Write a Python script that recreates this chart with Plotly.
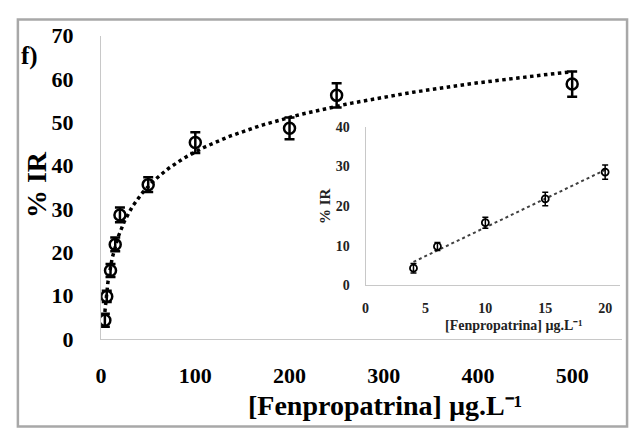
import numpy as np
import plotly.graph_objects as go

# data
conc = [4, 6, 10, 15, 20, 50, 100, 200, 250, 500]
ir = [4.3, 9.8, 15.8, 21.8, 28.6, 35.6, 45.3, 48.6, 56.2, 58.8]
ir_err = [1.5, 1.3, 1.5, 1.6, 1.7, 1.7, 2.4, 2.5, 2.8, 2.9]

ins_conc = conc[:5]
ins_ir = ir[:5]
ins_err = [1.2, 1.0, 1.4, 1.7, 1.8]

main_xticks = [0, 100, 200, 300, 400, 500]
main_yticks = [0, 10, 20, 30, 40, 50, 60, 70]
ins_xticks = [0, 5, 10, 15, 20]
ins_yticks = [0, 10, 20, 30, 40]

FONT = "Liberation Serif"
W, H = 633, 432

# trendlines (log fit for main, linear for inset)
a, b = np.polyfit(np.log(conc), ir, 1)
xf = np.geomspace(min(conc), max(conc), 200)
yf = a * np.log(xf) + b
m, c = np.polyfit(ins_conc, ins_ir, 1)
xl = np.array([min(ins_conc), max(ins_conc)])
yl = m * xl + c

fig = go.Figure()
fig.add_trace(go.Scatter(x=xf, y=yf, mode="lines",
                         line=dict(color="black", width=3.5, dash="dot"),
                         hoverinfo="skip", xaxis="x", yaxis="y"))
fig.add_trace(go.Scatter(x=conc, y=ir, mode="markers",
                         marker=dict(symbol="circle-open", size=11, color="black",
                                     line=dict(width=2.5, color="black")),
                         error_y=dict(type="data", array=ir_err, color="black",
                                      thickness=2.5, width=5),
                         xaxis="x", yaxis="y"))
fig.add_trace(go.Scatter(x=xl, y=yl, mode="lines",
                         line=dict(color="#404040", width=2, dash="dot"),
                         hoverinfo="skip", xaxis="x2", yaxis="y2"))
fig.add_trace(go.Scatter(x=ins_conc, y=ins_ir, mode="markers",
                         marker=dict(symbol="circle-open", size=7, color="black",
                                     line=dict(width=1.8, color="black")),
                         error_y=dict(type="data", array=ins_err, color="black",
                                      thickness=1.5, width=3),
                         xaxis="x2", yaxis="y2"))

def px_x(p):
    return p / W

def px_y(p):
    return 1 - p / H

axis_common = dict(showgrid=False, zeroline=False, showline=True,
                   linecolor="#c8c8c8", linewidth=1.2, ticks="",
                   mirror=False)

fig.update_layout(
    width=W, height=H,
    margin=dict(l=0, r=0, t=0, b=0),
    paper_bgcolor="white", plot_bgcolor="rgba(0,0,0,0)",
    showlegend=False,
    xaxis=dict(domain=[px_x(96), px_x(622)], range=[0, 553],
               tickvals=main_xticks, anchor="y",
               tickfont=dict(family=FONT, size=22, color="black", weight="bold"),
               ticklabelstandoff=17, **axis_common),
    yaxis=dict(domain=[px_y(347), px_y(25)], range=[0, 70],
               tickvals=main_yticks, anchor="x",
               tickfont=dict(family=FONT, size=22, color="black", weight="bold"),
               ticklabelstandoff=22, **axis_common),
    xaxis2=dict(domain=[px_x(363), px_x(620)], range=[0, 21.25],
                tickvals=ins_xticks, anchor="y2",
                tickfont=dict(family=FONT, size=14, color="#222", weight="bold"),
                ticklabelstandoff=10, **axis_common),
    yaxis2=dict(domain=[px_y(290), px_y(122)], range=[0, 40],
                tickvals=ins_yticks, anchor="x2",
                tickfont=dict(family=FONT, size=14, color="#222", weight="bold"),
                ticklabelstandoff=12, **axis_common),
    shapes=[
        dict(type="rect", xref="paper", yref="paper",
             x0=px_x(12), x1=px_x(627), y0=px_y(440), y1=px_y(8),
             line=dict(color="#a8a8a8", width=2.5), fillcolor="rgba(0,0,0,0)",
             layer="below"),
    ],
    annotations=[
        dict(text="% IR", x=px_x(31), y=px_y(183), xref="paper", yref="paper",
             textangle=-90, showarrow=False, xanchor="center", yanchor="middle",
             font=dict(family=FONT, size=28, color="black", weight="bold")),
        dict(text="[Fenpropatrina] µg.L⁻¹", x=px_x(383), y=px_y(418),
             xref="paper", yref="paper", showarrow=False,
             xanchor="center", yanchor="middle",
             font=dict(family=FONT, size=28, color="black", weight="bold")),
        dict(text="f)", x=px_x(24), y=px_y(47), xref="paper", yref="paper",
             showarrow=False, xanchor="center", yanchor="middle",
             font=dict(family=FONT, size=25, color="black", weight="bold")),
        dict(text="% IR", x=px_x(322), y=px_y(206), xref="paper", yref="paper",
             textangle=-90, showarrow=False, xanchor="center", yanchor="middle",
             font=dict(family=FONT, size=15, color="#222", weight="bold")),
        dict(text="[Fenpropatrina] µg.L⁻¹", x=px_x(513), y=px_y(333),
             xref="paper", yref="paper", showarrow=False,
             xanchor="center", yanchor="middle",
             font=dict(family=FONT, size=14, color="#222", weight="bold")),
    ],
)

fig.write_html("out.html")
